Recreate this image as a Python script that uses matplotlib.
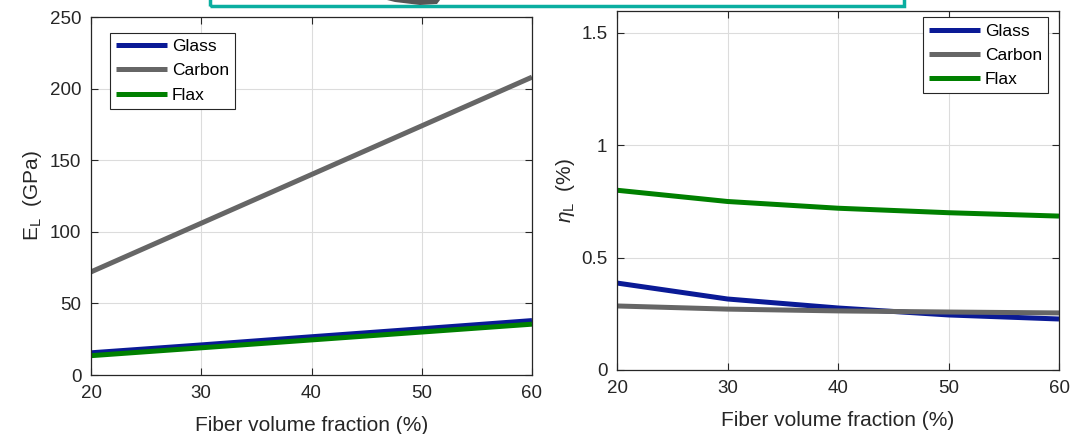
import numpy as np
import matplotlib.pyplot as plt
from matplotlib.patches import Rectangle, Polygon

plt.rcParams['font.family'] = ['Liberation Sans', 'DejaVu Sans']
plt.rcParams['mathtext.fontset'] = 'custom'
plt.rcParams['mathtext.rm'] = 'Liberation Sans'
plt.rcParams['mathtext.it'] = 'Liberation Sans:italic'

# fiber volume fraction (%)
vf = [20, 30, 40, 50, 60]
materials = ["Glass", "Carbon", "Flax"]

# longitudinal modulus E_L (GPa)
E_glass = [15.5, 21.0, 26.7, 32.3, 38.0]
E_carbon = [72, 106, 140, 174, 208]
E_flax = [13.5, 19.0, 24.5, 30.0, 35.5]

# longitudinal loss factor eta_L (%)
eta_glass = [0.387, 0.316, 0.276, 0.245, 0.227]
eta_carbon = [0.285, 0.271, 0.263, 0.258, 0.254]
eta_flax = [0.800, 0.750, 0.720, 0.700, 0.685]

colors = ["#0a1a96", "#666666", "#008000"]
axcol = "#262626"

fig = plt.figure(figsize=(10.77, 4.34), dpi=100)

# bit of the framed picture above that was cropped off
fig.patches.append(Rectangle((210 / 1077, 1 - 6 / 434), 694 / 1077, 20 / 434,
                             transform=fig.transFigure, fill=False,
                             edgecolor="#0aaea0", linewidth=2.5, clip_on=False))
fig.patches.append(Polygon([(387 / 1077, 1.0), (440 / 1077, 1.0), (437 / 1077, 1 - 4 / 434),
                            (420 / 1077, 1 - 5 / 434), (395 / 1077, 1 - 2 / 434)],
                           closed=True, transform=fig.transFigure, facecolor="#555555",
                           edgecolor="none"))

ax1 = fig.add_axes([91 / 1077, 1 - 375 / 434, 441 / 1077, 358 / 434])
ax2 = fig.add_axes([617 / 1077, 1 - 370 / 434, 442 / 1077, 359.5 / 434])


def style(ax):
    ax.grid(True, color="#dcdcdc", linewidth=0.8)
    ax.set_axisbelow(True)
    for s in ax.spines.values():
        s.set_color(axcol)
        s.set_linewidth(0.9)
    ax.tick_params(direction="in", top=True, right=True, colors=axcol,
                   labelsize=13.5, length=5, width=0.8, pad=7)
    ax.set_xlim(20, 60)
    ax.set_xticks([20, 30, 40, 50, 60])
    ax.set_xlabel("Fiber volume fraction (%)", fontsize=15, color=axcol, labelpad=10)


def legend(ax, **kw):
    leg = ax.legend(fontsize=12.5, handlelength=2.95, handletextpad=0.25, borderpad=0.35,
                    labelspacing=0.52, fancybox=False, framealpha=1, edgecolor=axcol,
                    borderaxespad=0, **kw)
    leg.get_frame().set_linewidth(0.8)


for y, c, m in zip([E_glass, E_carbon, E_flax], colors, materials):
    ax1.plot(vf, y, color=c, linewidth=3.6, label=m, solid_capstyle="butt")
style(ax1)
ax1.set_ylim(0, 250)
ax1.set_yticks([0, 50, 100, 150, 200, 250])
ax1.set_ylabel(r"E$_{\mathrm{L}}$  (GPa)", fontsize=15, color=axcol, labelpad=4)
legend(ax1, loc="upper left", bbox_to_anchor=(19 / 441, 1 - 16 / 358))

for y, c, m in zip([eta_glass, eta_carbon, eta_flax], colors, materials):
    ax2.plot(vf, y, color=c, linewidth=3.6, label=m, solid_capstyle="butt")
style(ax2)
ax2.set_ylim(0, 1.6)
ax2.set_yticks([0, 0.5, 1, 1.5])
ax2.set_yticklabels(["0", "0.5", "1", "1.5"])
ax2.set_ylabel(r"$\eta_{\mathrm{L}}$  (%)", fontsize=15, color=axcol, labelpad=3)
legend(ax2, loc="upper right", bbox_to_anchor=(1 - 11 / 442, 1 - 7 / 359.5))

fig.savefig("out.png", dpi=100)
